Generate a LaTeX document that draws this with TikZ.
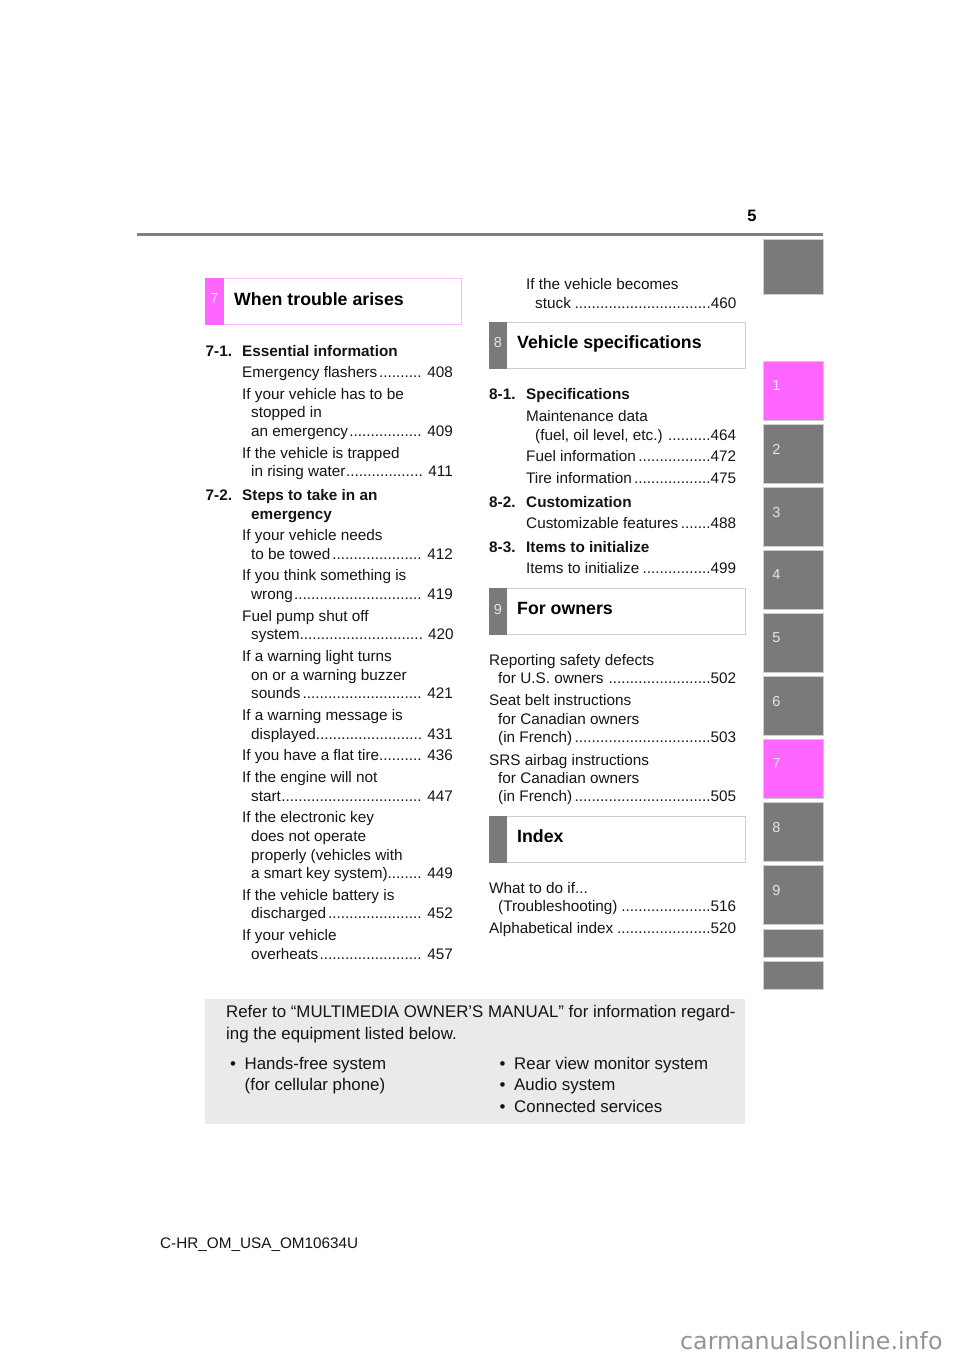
\documentclass[tikz,border=0pt]{standalone}
\usepackage{fontspec}
\setmainfont{Liberation Sans}
\newfontfamily\sitefont{DejaVu Sans}
\usetikzlibrary{positioning}

\definecolor{tabgray}{HTML}{7A7A7A}
\definecolor{tabpink}{HTML}{FF66FF}
\definecolor{edgepink}{HTML}{FFB8FF}
\definecolor{edgegray}{HTML}{CFCFCF}
\definecolor{notegray}{HTML}{EAEAEA}

% text lines of the two columns
\tikzset{
    entry/.style={anchor=base west, inner sep=0pt, font=\fontsize{15.3}{15.3}\selectfont, text=black!92},
    entrybold/.style={entry, font=\fontsize{15.3}{15.3}\selectfont\bfseries},
    title/.style={anchor=base west, inner sep=0pt, font=\fontsize{17.75}{17.75}\selectfont\bfseries},
    tabnum/.style={anchor=center, inner sep=0pt, text=white!90!black, font=\fontsize{14.5}{14.5}\selectfont},
    notetext/.style={anchor=base west, inner sep=0pt, font=\fontsize{16.86}{16.86}\selectfont, text=black!92}
}
\newcommand{\tocA}[5]{\node[entry] (#1) at (#2,#3) {\hbox to \dimexpr 452.6pt-#2pt\relax{#4\hfill #5}};}
\newcommand{\tocB}[5]{\node[entry] (#1) at (#2,#3) {\hbox to \dimexpr 736pt-#2pt\relax{#4\hfill #5}};}

\begin{document}
\begin{tikzpicture}[x=1pt, y=-1pt]

    \useasboundingbox (0,0) rectangle (960,1358);

    % page head
    \node[anchor=base, inner sep=0pt, font=\fontsize{16.5}{16.5}\selectfont\bfseries] (pagenum) at (752,221) {5};
    \fill[gray] (137,233) rectangle (823,235.5);

    % side tabs
    \fill[tabgray, draw=edgegray, line width=.5pt] (763.5,239.5) rectangle (823.2,294.5);
    \foreach \n/\ytop/\col in {1/361/tabpink, 2/424/tabgray, 3/487/tabgray, 4/550/tabgray, 5/613/tabgray,
                               6/676/tabgray, 7/739/tabpink, 8/802/tabgray, 9/865/tabgray} {
        \fill[\col, draw=edgegray, line width=.5pt] (763.5,\ytop.5) rectangle (823.2,\ytop.5+59);
        \node[tabnum] (side\n) at (776.5,\ytop+25) {\n};
    }
    \fill[tabgray, draw=edgegray, line width=.5pt] (763.5,929.5) rectangle (823.2,957.5);
    \fill[tabgray, draw=edgegray, line width=.5pt] (763.5,961.5) rectangle (823.2,989.5);

    % section heads
    \draw[edgepink, fill=white] (205.5,278.5) rectangle (461.5,324.5);
    \fill[tabpink] (205,278) rectangle (224,325);
    \node[tabnum] (head7) at (214.5,299) {7};
    \node[title] (trouble) at (234,305) {When trouble arises};

    \draw[edgegray, fill=white] (489.5,322.5) rectangle (745.2,368.5);
    \fill[tabgray] (489,322) rectangle (507.3,369);
    \node[tabnum] (head8) at (498,343) {8};
    \node[title] (specs) at (517,348) {Vehicle specifications};

    \draw[edgegray, fill=white] (489.5,588.5) rectangle (745.2,634.5);
    \fill[tabgray] (489,588) rectangle (507.3,635);
    \node[tabnum] (head9) at (498,609) {9};
    \node[title] (owners) at (517,614) {For owners};

    \draw[edgegray, fill=white] (489.5,816.5) rectangle (745.2,862.5);
    \fill[tabgray] (489,816) rectangle (507.3,863);
    \node[title] (index) at (517,842) {Index};

    % left column
    \node[entrybold] (no71) at (205.5,356) {7-1.};
    \node[entrybold] (essential) at (242,356) {Essential information};
    \tocA{flashers}{242}{377}{Emergency flashers}{.......... 408}
    \node[entry] (tostop) at (242,399) {If your vehicle has to be};
    \node[entry] (stopped) at (251,417.5) {stopped in};
    \tocA{emergency}{251}{436}{an emergency}{................. 409}
    \node[entry] (trapped) at (242,458) {If the vehicle is trapped};
    \tocA{water}{251}{476}{in rising water}{.................. 411}
    \node[entrybold] (no72) at (205.5,500) {7-2.};
    \node[entrybold] (steps) at (242,500) {Steps to take in an};
    \node[entrybold] (stepsb) at (251,519) {emergency};
    \node[entry] (needs) at (242,540) {If your vehicle needs};
    \tocA{towed}{251}{559}{to be towed}{..................... 412}
    \node[entry] (think) at (242,580.5) {If you think something is};
    \tocA{wrong}{251}{599}{wrong}{.............................. 419}
    \node[entry] (pump) at (242,621) {Fuel pump shut off};
    \tocA{system}{251}{639.5}{system}{............................. 420}
    \node[entry] (light) at (242,661.5) {If a warning light turns};
    \node[entry] (buzzer) at (251,680) {on or a warning buzzer};
    \tocA{sounds}{251}{698.5}{sounds}{............................ 421}
    \node[entry] (message) at (242,720.5) {If a warning message is};
    \tocA{displayed}{251}{739}{displayed}{......................... 431}
    \tocA{flat}{242}{760.5}{If you have a flat tire}{.......... 436}
    \node[entry] (engine) at (242,782.5) {If the engine will not};
    \tocA{start}{251}{801}{start}{................................. 447}
    \node[entry] (key) at (242,822.5) {If the electronic key};
    \node[entry] (operate) at (251,841) {does not operate};
    \node[entry] (properly) at (251,860) {properly (vehicles with};
    \tocA{smart}{251}{878.5}{a smart key system)}{........ 449}
    \node[entry] (battery) at (242,900.5) {If the vehicle battery is};
    \tocA{discharged}{251}{918.5}{discharged}{...................... 452}
    \node[entry] (vehicle) at (242,940.5) {If your vehicle};
    \tocA{overheats}{251}{959}{overheats}{........................ 457}

    % right column
    \node[entry] (becomes) at (526,289) {If the vehicle becomes};
    \tocB{stuck}{535}{308}{stuck}{................................460}
    \node[entrybold] (no81) at (489,399) {8-1.};
    \node[entrybold] (specif) at (526,399) {Specifications};
    \node[entry] (maint) at (526,421) {Maintenance data};
    \tocB{fuel}{535}{440}{(fuel, oil level, etc.)}{..........464}
    \tocB{fuelinfo}{526}{461.5}{Fuel information}{.................472}
    \tocB{tire}{526}{483.5}{Tire information}{..................475}
    \node[entrybold] (no82) at (489,507) {8-2.};
    \node[entrybold] (custom) at (526,507) {Customization};
    \tocB{features}{526}{528.5}{Customizable features}{.......488}
    \node[entrybold] (no83) at (489,552) {8-3.};
    \node[entrybold] (items) at (526,552) {Items to initialize};
    \tocB{itemsb}{526}{573.5}{Items to initialize}{................499}
    \node[entry] (defects) at (489,665) {Reporting safety defects};
    \tocB{usowners}{498}{683.5}{for U.S. owners}{........................502}
    \node[entry] (belt) at (489,705.5) {Seat belt instructions};
    \node[entry] (canada) at (498,724) {for Canadian owners};
    \tocB{french}{498}{742.5}{(in French)}{................................503}
    \node[entry] (srs) at (489,765) {SRS airbag instructions};
    \node[entry] (canadab) at (498,783.5) {for Canadian owners};
    \tocB{frenchb}{498}{801.5}{(in French)}{................................505}
    \node[entry] (whatif) at (489,893) {What to do if...};
    \tocB{shooting}{498}{911.5}{(Troubleshooting)}{.....................516}
    \tocB{alpha}{489}{933.5}{Alphabetical index}{......................520}

    % note at the foot
    \fill[notegray] (205,999) rectangle (745,1124);
    \node[notetext] (refer) at (226,1017) {Refer to “MULTIMEDIA OWNER’S MANUAL” for information regard-};
    \node[notetext] (refermore) at (226,1039) {ing the equipment listed below.};
    \node[notetext] (bulleta) at (230,1069) {•};
    \node[notetext] (handsfree) at (244.5,1069) {Hands-free system};
    \node[notetext] (cellular) at (244.5,1090.7) {(for cellular phone)};
    \node[notetext] (bulletb) at (499.5,1069) {•};
    \node[notetext] (rearview) at (514,1069) {Rear view monitor system};
    \node[notetext] (bulletc) at (499.5,1090.7) {•};
    \node[notetext] (audio) at (514,1090.7) {Audio system};
    \node[notetext] (bulletd) at (499.5,1112.5) {•};
    \node[notetext] (connected) at (514,1112.5) {Connected services};

    % foot of the page
    \node[entry] (code) at (160,1248) {C-HR\_OM\_USA\_OM10634U};
    \node[anchor=base west, inner sep=0pt, text=black!42, font=\fontsize{23.7}{23.7}\sitefont] (site) at (680,1349) {carmanualsonline.info};

\end{tikzpicture}
\end{document}
